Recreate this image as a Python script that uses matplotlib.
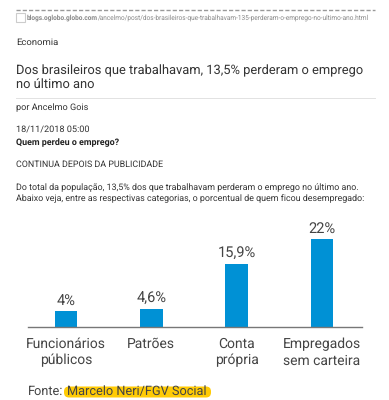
import matplotlib
matplotlib.use('Agg')
import matplotlib.pyplot as plt
from matplotlib.patches import FancyBboxPatch, Rectangle

plt.rcParams['text.hinting'] = 'no_hinting'

categorias = ['Funcionários\npúblicos', 'Patrões', 'Conta\nprópria', 'Empregados\nsem carteira']
valores = [4, 4.6, 15.9, 22]
rotulos = ['4%', '4,6%', '15,9%', '22%']

url_host = 'blogs.oglobo.globo.com'
url_path = '/ancelmo/post/dos-brasileiros-que-trabalhavam-135-perderam-o-emprego-no-ultimo-ano.html'
secao = 'Economia'
titulo = 'Dos brasileiros que trabalhavam, 13,5% perderam o emprego\nno último ano'
autor = 'por Ancelmo Gois'
data = '18/11/2018 05:00'
pergunta = 'Quem perdeu o emprego?'
aviso = 'CONTINUA DEPOIS DA PUBLICIDADE'
texto = ('Do total da população, 13,5% dos que trabalhavam perderam o emprego no último ano.\n'
         'Abaixo veja, entre as respectivas categorias, o porcentual de quem ficou desempregado:')
fonte = 'Fonte:'
fonte_nome = 'Marcelo Neri/FGV Social'

W, H = 389, 400
AZUL = '#0091d5'
ESCURO = '#333333'
NARROW = ['Liberation Sans Narrow', 'Roboto', 'DejaVu Sans']

fig = plt.figure(figsize=(W / 100, H / 100), dpi=100, facecolor='white')

# fundo em pixels, para o texto da pagina
bg = fig.add_axes([0, 0, 1, 1])
bg.set_xlim(0, W)
bg.set_ylim(H, 0)
bg.axis('off')

bg.plot([16, 375], [9.5, 9.5], color='#999999', lw=1, ls=(0, (3, 1.5)))
bg.add_patch(Rectangle((16, 13), 9, 9, fc='white', ec='#cccccc', lw=0.8))
t = bg.text(27, 17.5, url_host, fontsize=4.7, weight='bold', color='#888888',
            family='Roboto', va='center')
fig.canvas.draw()
x_fim = bg.transData.inverted().transform(t.get_window_extent().corners())[:, 0].max()
bg.text(x_fim, 17.5, url_path, fontsize=4.72, color='#888888', family='Roboto', va='center')

bg.text(16, 42, secao, fontsize=6.8, color=ESCURO, family='Roboto', va='center')
bg.text(16, 77.5, titulo, fontsize=9.3, color=ESCURO, family='Roboto', va='center', linespacing=1.18)
bg.plot([16, 375], [97.5, 97.5], color='#e2e2e2', lw=0.7)
bg.text(16, 108, autor, fontsize=6.6, color=ESCURO, family='Roboto', va='center')
bg.text(16, 129.5, data, fontsize=6.6, color=ESCURO, family='Roboto', va='center')
bg.text(16, 143, pergunta, fontsize=6.4, weight='bold', color='#222222', family='Roboto', va='center')
bg.text(16, 164, aviso, fontsize=6.4, color=ESCURO, family='Roboto', va='center')
bg.text(16, 193, texto, fontsize=6.4, color=ESCURO, family='Roboto', va='center', linespacing=1.3)

# grafico de barras
ax = fig.add_axes([28 / W, 1 - 327 / H, (362 - 28) / W, (327 - 239.3) / H])
pos = list(range(len(valores)))
ax.bar(pos, valores, width=0.266, color=AZUL, clip_on=False)
ax.set_xlim(-0.445, 3.47)
ax.set_ylim(0, 22)
ax.patch.set_alpha(0)
for s in ['top', 'left', 'right']:
    ax.spines[s].set_visible(False)
ax.spines['bottom'].set_color('#777777')
ax.spines['bottom'].set_linewidth(1.0)
ax.set_yticks([])
ax.set_xticks(pos)
ax.set_xticklabels(categorias, family=NARROW, fontsize=10, color='#444444', linespacing=1.32, va='top')
ax.tick_params(axis='x', length=0, pad=7.5)
for p, v, r in zip(pos, valores, rotulos):
    ax.annotate(r, (p, v), xytext=(0, 2.5), textcoords='offset points', ha='center', va='bottom',
                family=NARROW, fontsize=10.5, color='#444444', annotation_clip=False)

# fonte, com o marcador amarelo
bg.add_patch(FancyBboxPatch((64, 386.5), 147, 11, boxstyle='round,pad=0,rounding_size=5',
                            fc='#ffcb05', ec='none'))
bg.text(28, 391.5, fonte, family=NARROW, fontsize=9.2, color='#444444', va='center')
bg.text(67, 391.5, fonte_nome, family=NARROW, fontsize=9.2, color='#444444', va='center')

fig.savefig('out.png', dpi=100)
